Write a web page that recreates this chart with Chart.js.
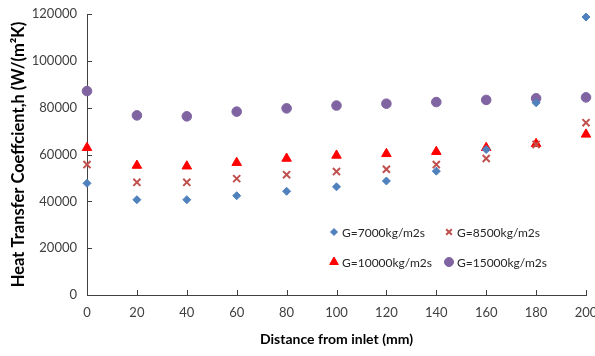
<!DOCTYPE html>
<html lang="en">
<head>
    <meta charset="UTF-8">
    <title>Heat transfer coefficient</title>
    <style>
        * { margin: 0; padding: 0; box-sizing: border-box; }
        body { background: #fff; width: 595px; height: 356px; overflow: hidden; }
        #wrap { position: relative; width: 595px; height: 356px; }
    </style>
    <script src="https://cdn.jsdelivr.net/npm/chart.js"></script>
</head>
<body>
    <div id="wrap"><canvas id="chart" width="595" height="356"></canvas></div>

    <script>
        // Distance from inlet (mm)
        const distances = [0, 20, 40, 60, 80, 100, 120, 140, 160, 180, 200];

        // h values, W/(m2K)
        const hG7000  = [47700, 40700, 40700, 42400, 44300, 46200, 48700, 52900, 62100, 82100, 118700];
        const hG8500  = [55700, 48100, 48100, 49700, 51400, 52700, 53700, 55700, 58300, 64300, 73600];
        const hG10000 = [62900, 55300, 55000, 56500, 58300, 59600, 60300, 61200, 62900, 64600, 68600];
        const hG15000 = [87100, 76700, 76300, 78300, 79700, 80900, 81700, 82400, 83300, 84000, 84400];

        const xTicks = [0, 20, 40, 60, 80, 100, 120, 140, 160, 180, 200];
        const yTicks = [0, 20000, 40000, 60000, 80000, 100000, 120000];

        const seriesLabels = ['G=7000kg/m2s', 'G=8500kg/m2s', 'G=10000kg/m2s', 'G=15000kg/m2s'];

        const FONT = 'Lato, "Open Sans", sans-serif';
        const AXIS_COLOR = '#404040';

        function toPoints(values) {
            return distances.map((d, i) => ({ x: d, y: values[i] }));
        }

        const styles = [
            { pointStyle: 'rectRot',  color: '#4F81BD', radius: 4,   border: 1 },
            { pointStyle: 'crossRot', color: '#C0504D', radius: 5,   border: 2 },
            { pointStyle: 'triangle', color: '#FF0000', radius: 5.5, border: 1 },
            { pointStyle: 'circle',   color: '#8064A2', radius: 4.8, border: 1 }
        ];
        const allValues = [hG7000, hG8500, hG10000, hG15000];

        const datasets = allValues.map((vals, i) => ({
            label: seriesLabels[i],
            data: toPoints(vals),
            pointStyle: styles[i].pointStyle,
            pointRadius: styles[i].radius,
            pointHoverRadius: styles[i].radius,
            pointBackgroundColor: styles[i].color,
            pointBorderColor: styles[i].color,
            pointBorderWidth: styles[i].border,
            showLine: false,
            clip: false
        }));

        // tick marks drawn inside the plot area, as in the original
        const insideTicks = {
            id: 'insideTicks',
            afterDraw(chart) {
                const ctx = chart.ctx;
                const area = chart.chartArea;
                const xs = chart.scales.x, ys = chart.scales.y;
                ctx.save();
                ctx.strokeStyle = AXIS_COLOR;
                ctx.lineWidth = 1;
                ctx.beginPath();
                xTicks.forEach(v => {
                    const px = Math.round(xs.getPixelForValue(v)) + 0.5;
                    ctx.moveTo(px, area.bottom);
                    ctx.lineTo(px, area.bottom - 5);
                });
                yTicks.forEach(v => {
                    const py = Math.round(ys.getPixelForValue(v)) + 0.5;
                    ctx.moveTo(area.left, py);
                    ctx.lineTo(area.left + 5, py);
                });
                ctx.stroke();
                ctx.restore();
            }
        };

        // legend placed inside the plot, two columns
        const innerLegend = {
            id: 'innerLegend',
            afterDraw(chart) {
                const ctx = chart.ctx;
                const spots = [[334, 232], [449, 232], [334, 262], [449, 262]];
                const sizes = [3.5, 4, 5, 4.5];
                ctx.save();
                ctx.font = '12px ' + FONT;
                ctx.textBaseline = 'middle';
                spots.forEach((s, i) => {
                    ctx.fillStyle = styles[i].color;
                    ctx.strokeStyle = styles[i].color;
                    ctx.lineWidth = styles[i].border;
                    Chart.helpers.drawPoint(ctx, {
                        pointStyle: styles[i].pointStyle,
                        radius: sizes[i],
                        rotation: 0,
                        borderWidth: styles[i].border
                    }, s[0], s[1]);
                    ctx.fillStyle = '#262626';
                    ctx.fillText(seriesLabels[i], s[0] + 8, s[1] + 1);
                });
                ctx.restore();
            }
        };

        new Chart(document.getElementById('chart'), {
            type: 'scatter',
            data: { datasets: datasets },
            options: {
                responsive: false,
                animation: false,
                events: [],
                layout: { padding: { top: 14, right: 9, left: 0, bottom: 0 } },
                plugins: {
                    legend: { display: false },
                    tooltip: { enabled: false }
                },
                scales: {
                    x: {
                        type: 'linear',
                        min: 0,
                        max: 200,
                        afterBuildTicks: s => { s.ticks = xTicks.map(v => ({ value: v })); },
                        ticks: {
                            color: '#404040',
                            font: { family: FONT, size: 13 },
                            padding: 10,
                            maxRotation: 0,
                            callback: v => String(v)
                        },
                        grid: { display: true, drawOnChartArea: false, drawTicks: false },
                        border: { color: AXIS_COLOR, width: 1 },
                        title: {
                            display: true,
                            text: 'Distance from inlet (mm)',
                            color: '#000',
                            font: { family: FONT, size: 14, weight: 'bold' },
                            padding: { top: 6, bottom: 8 }
                        },
                        afterFit: s => {
                            s.height = 61;
                            s.paddingLeft = 0;
                            s.paddingRight = 0;
                        }
                    },
                    y: {
                        type: 'linear',
                        min: 0,
                        max: 120000,
                        afterBuildTicks: s => { s.ticks = yTicks.map(v => ({ value: v })); },
                        ticks: {
                            color: '#404040',
                            font: { family: FONT, size: 13 },
                            padding: 10,
                            callback: v => String(v)
                        },
                        grid: { display: true, drawOnChartArea: false, drawTicks: false },
                        border: { color: AXIS_COLOR, width: 1 },
                        title: {
                            display: true,
                            text: 'Heat Transfer Coeffcient,h (W/(m\u00B2K)',
                            color: '#000',
                            font: { family: FONT, size: 16.5, weight: 'bold' },
                            padding: { top: 9, bottom: 2 }
                        },
                        afterFit: s => {
                            s.width = 87;
                            s.paddingTop = 0;
                            s.paddingBottom = 0;
                        }
                    }
                }
            },
            plugins: [insideTicks, innerLegend]
        });
    </script>
</body>
</html>
